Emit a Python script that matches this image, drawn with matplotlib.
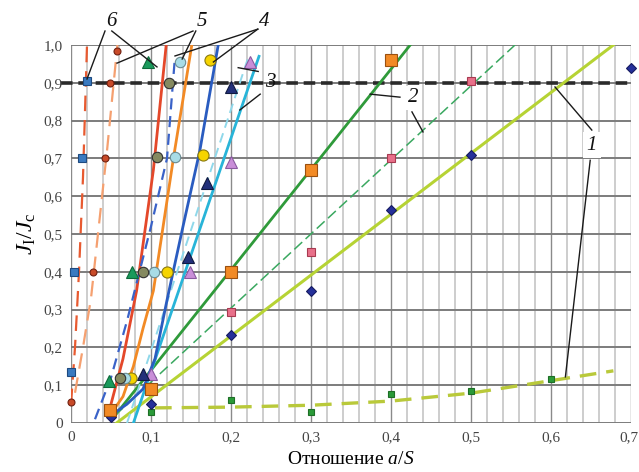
import matplotlib
matplotlib.use("Agg")
import matplotlib.pyplot as plt
import matplotlib.transforms as mtransforms
import numpy as np

plt.rcParams['font.family'] = ['Liberation Serif', 'DejaVu Serif']
plt.rcParams['mathtext.fontset'] = 'custom'
plt.rcParams['mathtext.rm'] = 'Liberation Serif'
plt.rcParams['mathtext.it'] = 'Liberation Serif:italic'

# ---- fitted curves ----
c1_x = [0.057, 0.678]
c1_y = [0.0, 1.0]
c1d_x = [0.105, 0.2, 0.3, 0.4, 0.5, 0.6, 0.678]
c1d_y = [0.040, 0.042, 0.047, 0.058, 0.079, 0.112, 0.138]
c2_x = [0.055, 0.424]
c2_y = [0.02, 1.0]
c2d_x = [0.055, 0.555]
c2d_y = [0.02, 1.0]
c3_x = [0.078, 0.235]
c3_y = [0.0, 0.97]
c3d_x = [0.070, 0.222]
c3d_y = [0.0, 0.97]
c4_x = [0.05, 0.07, 0.09, 0.105, 0.12, 0.14, 0.161, 0.184]
c4_y = [0.02, 0.05, 0.09, 0.17, 0.325, 0.52, 0.72, 1.0]
c5_x = [0.05, 0.065, 0.078, 0.09, 0.103, 0.128, 0.151]
c5_y = [0.025, 0.07, 0.15, 0.25, 0.35, 0.70, 1.0]
c5r_x = [0.05, 0.065, 0.082, 0.103, 0.119]
c5r_y = [0.05, 0.17, 0.35, 0.67, 1.0]
c5d_x = [0.03, 0.05, 0.07, 0.10, 0.12, 0.13]
c5d_y = [0.01, 0.12, 0.27, 0.52, 0.70, 0.97]
c6a_x = [0.0, 0.005, 0.010, 0.015, 0.020]
c6a_y = [0.05, 0.20, 0.40, 0.65, 1.0]
c6b_x = [0.005, 0.015, 0.025, 0.045, 0.058]
c6b_y = [0.08, 0.20, 0.33, 0.72, 1.0]

# ---- measured points ----
sq_blue_x = [0.0, 0.004, 0.014, 0.020]
sq_blue_y = [0.135, 0.40, 0.70, 0.905]
circ_red_x = [0.0, 0.028, 0.042, 0.049, 0.058]
circ_red_y = [0.055, 0.40, 0.70, 0.90, 0.985]
tri_green_x = [0.047, 0.076, 0.096]
tri_green_y = [0.11, 0.40, 0.955]
circ_gray_x = [0.061, 0.090, 0.107, 0.123]
circ_gray_y = [0.12, 0.40, 0.705, 0.90]
circ_cyan_x = [0.068, 0.104, 0.130, 0.136]
circ_cyan_y = [0.12, 0.40, 0.705, 0.955]
circ_yel_x = [0.075, 0.120, 0.165, 0.174]
circ_yel_y = [0.12, 0.40, 0.71, 0.96]
tri_navy_x = [0.090, 0.146, 0.170, 0.200]
tri_navy_y = [0.13, 0.44, 0.635, 0.89]
tri_violet_x = [0.100, 0.149, 0.200, 0.224]
tri_violet_y = [0.13, 0.40, 0.69, 0.955]
sq_orange_x = [0.049, 0.1, 0.2, 0.3, 0.4]
sq_orange_y = [0.035, 0.09, 0.40, 0.67, 0.96]
sq_pink_x = [0.2, 0.3, 0.4, 0.5]
sq_pink_y = [0.294, 0.452, 0.70, 0.905]
dia_x = [0.05, 0.1, 0.2, 0.3, 0.4, 0.5, 0.7]
dia_y = [0.016, 0.05, 0.233, 0.35, 0.563, 0.71, 0.94]
sq_green_x = [0.1, 0.2, 0.3, 0.4, 0.5, 0.6]
sq_green_y = [0.03, 0.061, 0.03, 0.077, 0.085, 0.116]

x_ticks = [0, 0.1, 0.2, 0.3, 0.4, 0.5, 0.6, 0.7]
x_labels = ['0', '0,1', '0,2', '0,3', '0,4', '0,5', '0,6', '0,7']
y_ticks = [0, 0.1, 0.2, 0.3, 0.4, 0.5, 0.6, 0.7, 0.8, 0.9, 1.0]
y_labels = ['0', '0,1', '0,2', '0,3', '0,4', '0,5', '0,6', '0,7', '0,8', '0,9', '1,0']

fig = plt.figure(figsize=(6.39, 4.72), dpi=100)
ax = fig.add_axes([71 / 639, 49 / 472, 560 / 639, 378 / 472])
ax.set_xlim(0, 0.7)
ax.set_ylim(0, 1.0)

# grid
for xv in np.arange(0.02, 0.7, 0.02):
    if abs(xv * 10 - round(xv * 10)) > 1e-6:
        ax.axvline(xv, color='#c9c9c9', lw=1.3, zorder=0)
for xv in x_ticks:
    ax.axvline(xv, color='#8a8a8a', lw=1.0, zorder=0.5)
for yv in y_ticks:
    ax.axhline(yv, color='#7c7c7c', lw=1.4, zorder=0.5)
for s in ax.spines.values():
    s.set_visible(False)

ax.plot([-0.012, 0.7], [0.9, 0.9], color='#2a2a2a', lw=2.6,
        dashes=(3.2, 1.6), zorder=1, clip_on=False)

# curves
ax.plot(c1_x, c1_y, color='#b6d334', lw=2.2, zorder=2)
ax.plot(c1d_x, c1d_y, color='#b9c93a', lw=2.4, dashes=(5, 3), zorder=2)
ax.plot(c2_x, c2_y, color='#2f9a3a', lw=2.0, zorder=2)
ax.plot(c2d_x, c2d_y, color='#3aa860', lw=1.1, dashes=(7, 3), zorder=2)
ax.plot(c3_x, c3_y, color='#28b4d8', lw=2.0, zorder=2)
ax.plot(c3d_x, c3d_y, color='#8fd8ea', lw=1.4, dashes=(5, 3), zorder=2)
ax.plot(c4_x, c4_y, color='#2a5cc0', lw=2.0, zorder=2)
ax.plot(c5_x, c5_y, color='#f28a25', lw=2.0, zorder=2)
ax.plot(c5r_x, c5r_y, color='#e4482a', lw=2.0, zorder=2)
ax.plot(c5d_x, c5d_y, color='#3a62c8', lw=1.6, dashes=(5, 3), zorder=2)
ax.plot(c6a_x, c6a_y, color='#e85a30', lw=1.6, dashes=(7, 4), zorder=2)
ax.plot(c6b_x, c6b_y, color='#f5a070', lw=1.6, dashes=(7, 4), zorder=2)

# markers
def pts(x, y, m, fc, ec, ms, ew=0.8):
    ax.plot(x, y, ls='none', marker=m, mfc=fc, mec=ec, ms=ms, mew=ew,
            zorder=4, clip_on=False)

pts(sq_green_x, sq_green_y, 's', '#2a9a38', '#1e6e26', 5)
pts(dia_x, dia_y, 'D', '#25309a', '#151a60', 5.5)
pts(sq_pink_x, sq_pink_y, 's', '#e8708a', '#a83a50', 6)
pts(sq_orange_x, sq_orange_y, 's', '#f28a25', '#9a5010', 8)
pts(tri_violet_x, tri_violet_y, '^', '#c98ed8', '#8a5aa0', 9)
pts(tri_navy_x, tri_navy_y, '^', '#22307a', '#101a40', 9)
pts(circ_yel_x, circ_yel_y, 'o', '#f6d400', '#8a7a10', 8)
pts(circ_cyan_x, circ_cyan_y, 'o', '#a8dce6', '#6a8a90', 7.5)
pts(circ_gray_x, circ_gray_y, 'o', '#858a60', '#303030', 7.5)
pts(tri_green_x, tri_green_y, '^', '#1a9a5c', '#0e6a3a', 9)
pts(circ_red_x, circ_red_y, 'o', '#c84a28', '#702010', 5)
pts(sq_blue_x, sq_blue_y, 's', '#3a7ac0', '#1e4a80', 6)

# callout numbers with leader lines
lbl = dict(fontsize=15, style='italic', ha='center', va='center',
           color='#111111', zorder=6, clip_on=False)
leaders = [
    ((0.0425, 1.037), (0.020, 0.910)),
    ((0.051, 1.037), (0.1075, 0.942)),
    ((0.1525, 1.037), (0.0575, 0.952)),
    ((0.1560, 1.037), (0.139, 0.963)),
    ((0.2335, 1.042), (0.130, 0.971)),
    ((0.2335, 1.042), (0.178, 0.955)),
    ((0.2340, 0.93), (0.209, 0.94)),
    ((0.2365, 0.87), (0.211, 0.828)),
    ((0.4112, 0.862), (0.374, 0.870)),
    ((0.4262, 0.823), (0.440, 0.770)),
    ((0.651, 0.775), (0.605, 0.889)),
    ((0.649, 0.695), (0.618, 0.122)),
]
for (x0, y0), (x1, y1) in leaders:
    ax.plot([x0, x1], [y0, y1], color='#1a1a1a', lw=1.0, zorder=5,
            clip_on=False)

ax.text(0.051, 1.063, '6', **lbl)
ax.text(0.164, 1.063, '5', **lbl)
ax.text(0.241, 1.063, '4', **lbl)
ax.text(0.249, 0.900, '3', **lbl)
ax.text(0.4275, 0.860, '2', bbox=dict(fc='white', ec='none', pad=1.5), **lbl)
ax.text(0.651, 0.735, '1', bbox=dict(fc='white', ec='none', pad=2.5), **lbl)

ax.set_xticks(x_ticks)
ax.set_xticklabels(x_labels, fontsize=11, color='#444444')
ax.set_yticks(y_ticks)
ax.set_yticklabels(y_labels, fontsize=11, color='#444444')
ax.tick_params(length=0, pad=6)

# keep the last x tick label inside the figure edge
last = ax.get_xticklabels()[-1]
last.set_horizontalalignment('right')
last.set_transform(last.get_transform() +
                   mtransforms.ScaledTranslation(7 / 100, 0, fig.dpi_scale_trans))

ax.set_xlabel(r'Отношение $a/S$', fontsize=14, labelpad=5)
ax.set_ylabel(r'$J_\mathrm{I}/J_\mathrm{c}$', fontsize=17, labelpad=4)

fig.savefig('out.png', dpi=100)
